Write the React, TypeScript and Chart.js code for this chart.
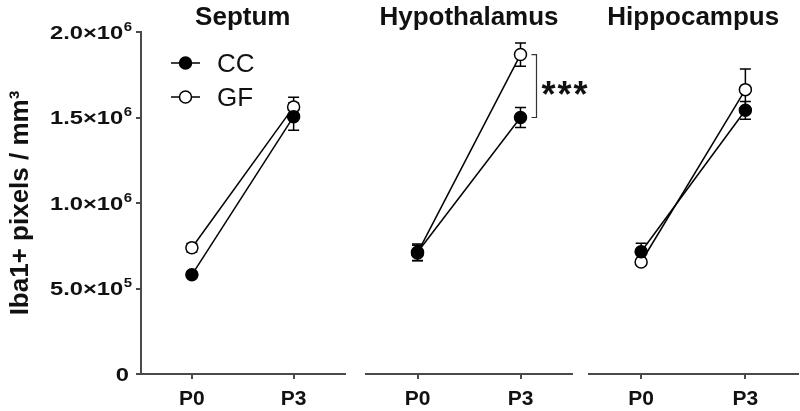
import React, { useEffect, useRef } from "react";
import { Chart, registerables } from "chart.js";

Chart.register(...registerables);

// ---------- data ----------
const timepoints = ["P0", "P3"];
const regionNames = ["Septum", "Hypothalamus", "Hippocampus"];
const seriesNames = ["CC", "GF"];

const ccSeptum = [580000, 1505000];
const ccSeptumErr = [15000, 80000];
const gfSeptum = [738000, 1562000];
const gfSeptumErr = [25000, 57000];

const ccHypothalamus = [712000, 1500000];
const ccHypothalamusErr = [48000, 58000];
const gfHypothalamus = [708000, 1868000];
const gfHypothalamusErr = [45000, 68000];

const ccHippocampus = [715000, 1542000];
const ccHippocampusErr = [50000, 52000];
const gfHippocampus = [655000, 1663000];
const gfHippocampusErr = [10000, 120000];

const yMin = 0;
const yMax = 2000000;
const yStep = 500000;
const yTitle = "Iba1+ pixels / mm³";
const significanceLabel = "***";

// ---------- styles / layout ----------
const FONT = "'Liberation Sans', Arial, Helvetica, sans-serif";
const AXIS = "#4a4a4a";
const INK = "#111111";
const MARK = "#000000";

type PanelDef = {
  title: string;
  cc: number[];
  ccErr: number[];
  gf: number[];
  gfErr: number[];
  left: number;
  width: number;
  padLeft: number;
  padRight: number;
  first: boolean;
  bracket: boolean;
};

const panels: PanelDef[] = [
  { title: regionNames[0], cc: ccSeptum, ccErr: ccSeptumErr, gf: gfSeptum, gfErr: gfSeptumErr, left: 0, width: 352, padLeft: 0, padRight: 5, first: true, bracket: false },
  { title: regionNames[1], cc: ccHypothalamus, ccErr: ccHypothalamusErr, gf: gfHypothalamus, gfErr: gfHypothalamusErr, left: 352, width: 250, padLeft: 14, padRight: 30, first: false, bracket: true },
  { title: regionNames[2], cc: ccHippocampus, ccErr: ccHippocampusErr, gf: gfHippocampus, gfErr: gfHippocampusErr, left: 580, width: 225, padLeft: 9, padRight: 5, first: false, bracket: false },
];

function tickParts(v: number): [string, string] {
  if (v === 0) return ["0", ""];
  const exp = Math.floor(Math.log10(v));
  const mant = v / Math.pow(10, exp);
  return [mant.toFixed(1) + "×10", String(exp)];
}

function makePlugin(p: PanelDef) {
  return {
    id: "panelDecor",
    beforeDatasetsDraw(chart: any) {
      const ctx = chart.ctx;
      const ys = chart.scales.y;
      const errs = [p.ccErr, p.gfErr];
      ctx.save();
      ctx.strokeStyle = MARK;
      ctx.lineWidth = 1.5;
      chart.data.datasets.forEach((ds: any, d: number) => {
        const meta = chart.getDatasetMeta(d);
        meta.data.forEach((pt: any, i: number) => {
          const v = ds.data[i];
          const e = errs[d][i];
          const yHi = ys.getPixelForValue(v + e);
          const yLo = ys.getPixelForValue(v - e);
          ctx.beginPath();
          ctx.moveTo(pt.x, yHi);
          ctx.lineTo(pt.x, yLo);
          ctx.moveTo(pt.x - 5.5, yHi);
          ctx.lineTo(pt.x + 5.5, yHi);
          ctx.moveTo(pt.x - 5.5, yLo);
          ctx.lineTo(pt.x + 5.5, yLo);
          ctx.stroke();
        });
      });
      ctx.restore();
    },
    afterDraw(chart: any) {
      const ctx = chart.ctx;
      const area = chart.chartArea;
      const ys = chart.scales.y;
      ctx.save();
      ctx.fillStyle = INK;
      // panel title
      ctx.font = `bold 26px ${FONT}`;
      ctx.textAlign = "center";
      ctx.textBaseline = "alphabetic";
      ctx.fillText(p.title, (area.left + area.right) / 2, 25);

      if (p.first) {
        // y tick labels
        ys.ticks.forEach((t: any) => {
          const y = ys.getPixelForValue(t.value);
          const [main, sup] = tickParts(t.value);
          ctx.save();
          ctx.translate(area.left - (sup ? 9 : 12), y);
          ctx.scale(1.25, 1);
          ctx.textAlign = "right";
          ctx.textBaseline = "alphabetic";
          let off = 0;
          if (sup) {
            ctx.font = `bold 12px ${FONT}`;
            ctx.fillText(sup, 0, -1.4);
            off = ctx.measureText(sup).width + 0.3;
          }
          ctx.font = `bold 19px ${FONT}`;
          ctx.fillText(main, -off, 6.7);
          ctx.restore();
        });
        // y title
        ctx.save();
        ctx.translate(28, (area.top + area.bottom) / 2);
        ctx.rotate(-Math.PI / 2);
        ctx.font = `bold 26px ${FONT}`;
        ctx.textAlign = "center";
        ctx.textBaseline = "alphabetic";
        ctx.fillText(yTitle, 0, 0);
        ctx.restore();
        // legend
        const items = [
          { name: seriesNames[0], fill: MARK, y: 63 },
          { name: seriesNames[1], fill: "#ffffff", y: 97 },
        ];
        items.forEach((it) => {
          ctx.strokeStyle = MARK;
          ctx.lineWidth = 1.5;
          ctx.beginPath();
          ctx.moveTo(171, it.y);
          ctx.lineTo(200, it.y);
          ctx.stroke();
          ctx.beginPath();
          ctx.arc(185.5, it.y, 6, 0, Math.PI * 2);
          ctx.fillStyle = it.fill;
          ctx.fill();
          ctx.stroke();
          ctx.fillStyle = INK;
          ctx.font = `26px ${FONT}`;
          ctx.textAlign = "left";
          ctx.textBaseline = "alphabetic";
          ctx.fillText(it.name, 217, it.y + 9.3);
        });
      }

      if (p.bracket) {
        const meta = chart.getDatasetMeta(0);
        const x = meta.data[1].x + 16;
        const yTop = ys.getPixelForValue(p.gf[1]);
        const yBot = ys.getPixelForValue(p.cc[1]);
        ctx.strokeStyle = "#333";
        ctx.lineWidth = 1.2;
        ctx.beginPath();
        ctx.moveTo(x - 5, yTop);
        ctx.lineTo(x, yTop);
        ctx.lineTo(x, yBot);
        ctx.lineTo(x - 5, yBot);
        ctx.stroke();
        ctx.fillStyle = INK;
        ctx.font = `bold 36px ${FONT}`;
        (ctx as any).letterSpacing = "2px";
        ctx.textAlign = "left";
        ctx.textBaseline = "alphabetic";
        ctx.fillText(significanceLabel, x + 5, (yTop + yBot) / 2 + 21);
      }
      ctx.restore();
    },
  };
}

function Panel({ p }: { p: PanelDef }) {
  const ref = useRef<HTMLCanvasElement | null>(null);
  useEffect(() => {
    if (!ref.current) return;
    const chart = new Chart(ref.current, {
      type: "line",
      data: {
        labels: timepoints,
        datasets: [
          {
            label: seriesNames[0],
            data: p.cc,
            borderColor: MARK,
            borderWidth: 1.5,
            backgroundColor: MARK,
            pointBackgroundColor: MARK,
            pointBorderColor: MARK,
            pointBorderWidth: 1.5,
            pointRadius: 6,
            tension: 0,
            fill: false,
          },
          {
            label: seriesNames[1],
            data: p.gf,
            borderColor: MARK,
            borderWidth: 1.5,
            backgroundColor: "#ffffff",
            pointBackgroundColor: "#ffffff",
            pointBorderColor: MARK,
            pointBorderWidth: 1.5,
            pointRadius: 6,
            tension: 0,
            fill: false,
          },
        ],
      },
      options: {
        responsive: false,
        animation: false,
        events: [],
        layout: { padding: { top: 32, left: p.padLeft, right: p.padRight, bottom: 0 } },
        plugins: {
          legend: { display: false },
          tooltip: { enabled: false },
          title: { display: false },
        },
        scales: {
          x: {
            type: "category",
            offset: true,
            grid: {
              display: true,
              drawOnChartArea: false,
              drawTicks: true,
              tickLength: 5,
              color: AXIS,
              lineWidth: 2,
              offset: false,
            },
            border: { display: true, color: AXIS, width: 2 },
            ticks: {
              font: { family: FONT, size: 21, weight: "bold" },
              color: INK,
              padding: 8,
              maxRotation: 0,
            },
            afterFit: (s: any) => {
              s.height = 37;
            },
          },
          y: {
            display: p.first,
            min: yMin,
            max: yMax,
            grid: {
              display: true,
              drawOnChartArea: false,
              drawTicks: true,
              tickLength: 5,
              color: AXIS,
              lineWidth: 2,
            },
            border: { display: true, color: AXIS, width: 2 },
            ticks: { display: false, stepSize: yStep },
            afterFit: (s: any) => {
              s.width = p.first ? 141 : 0;
            },
          },
        },
      } as any,
      plugins: [makePlugin(p)],
    });
    return () => chart.destroy();
  }, [p]);
  return (
    <canvas
      ref={ref}
      width={p.width}
      height={411}
      style={{ position: "absolute", left: p.left, top: 0, width: p.width, height: 411 }}
    />
  );
}

export default function App() {
  return (
    <div style={{ position: "fixed", left: 0, top: 0, width: 800, height: 411, background: "#fff", overflow: "hidden" }}>
      {panels.map((p) => (
        <Panel key={p.title} p={p} />
      ))}
    </div>
  );
}
